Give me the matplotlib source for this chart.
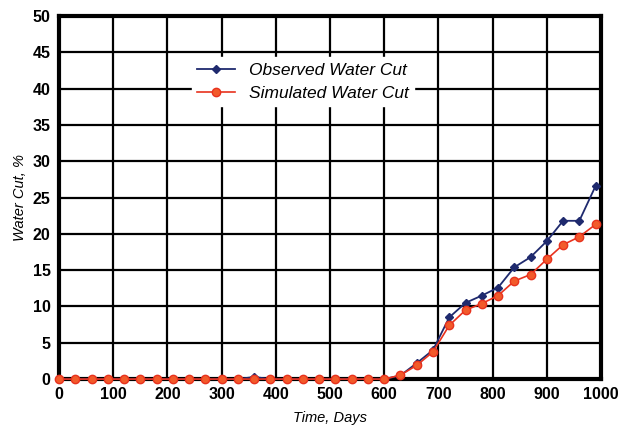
import numpy as np
import matplotlib
matplotlib.use("Agg")
import matplotlib.pyplot as plt

# time axis, every 30 days
days = list(range(0, 1000, 30))

# water cut readings, %
observed = [0, 0, 0, 0, 0, 0, 0, 0, 0, 0, 0, 0, 0.3, 0, 0, 0, 0, 0, 0, 0, 0,
            0.5, 2.2, 4.0, 8.5, 10.5, 11.5, 12.6, 15.4, 16.8, 19.0, 21.8, 21.8, 26.6]
simulated = [0, 0, 0, 0, 0, 0, 0, 0, 0, 0, 0, 0, 0, 0, 0, 0, 0, 0, 0, 0, 0,
             0.55, 1.9, 3.75, 7.4, 9.5, 10.4, 11.5, 13.5, 14.4, 16.5, 18.5, 19.6, 21.3]

xticks = np.arange(0, 1001, 100)
yticks = np.arange(0, 51, 5)

plt.rcParams['font.family'] = ['Liberation Sans', 'DejaVu Sans']

fig = plt.figure(figsize=(6.18, 4.46), dpi=100)
ax = fig.add_axes([0.0955, 0.150, 0.877, 0.814])

ax.plot(days, observed, color="#1f2a6e", lw=1.3, marker="D", ms=4,
        label="Observed Water Cut", zorder=3, clip_on=False)
ax.plot(days, simulated, color="#e8321e", lw=1.2, marker="o", ms=6,
        mfc="#f25a2a", mec="#e8321e", label="Simulated Water Cut", zorder=4,
        clip_on=False)

ax.set_xlim(0, 1000)
ax.set_ylim(0, 50)
ax.set_xticks(xticks)
ax.set_yticks(yticks)
ax.grid(True, color="black", lw=1.6)
ax.set_axisbelow(True)
for s in ax.spines.values():
    s.set_linewidth(3)
ax.tick_params(length=0, pad=6, labelsize=11.5)
for lab in ax.get_xticklabels() + ax.get_yticklabels():
    lab.set_fontweight("bold")

ax.set_xlabel("Time, Days", style="italic", fontsize=10.5, labelpad=6)
ax.set_ylabel("Water Cut, %", style="italic", fontsize=10.5, labelpad=4)

leg = ax.legend(loc="upper center", bbox_to_anchor=(0.45, 0.91), frameon=True,
                fontsize=12.5, handlelength=2.2, borderpad=0.3, labelspacing=0.45,
                fancybox=False)
leg.get_frame().set_edgecolor("white")
leg.get_frame().set_facecolor("white")
leg.get_frame().set_alpha(1)
for t in leg.get_texts():
    t.set_style("italic")

plt.savefig("out.png", dpi=100)
